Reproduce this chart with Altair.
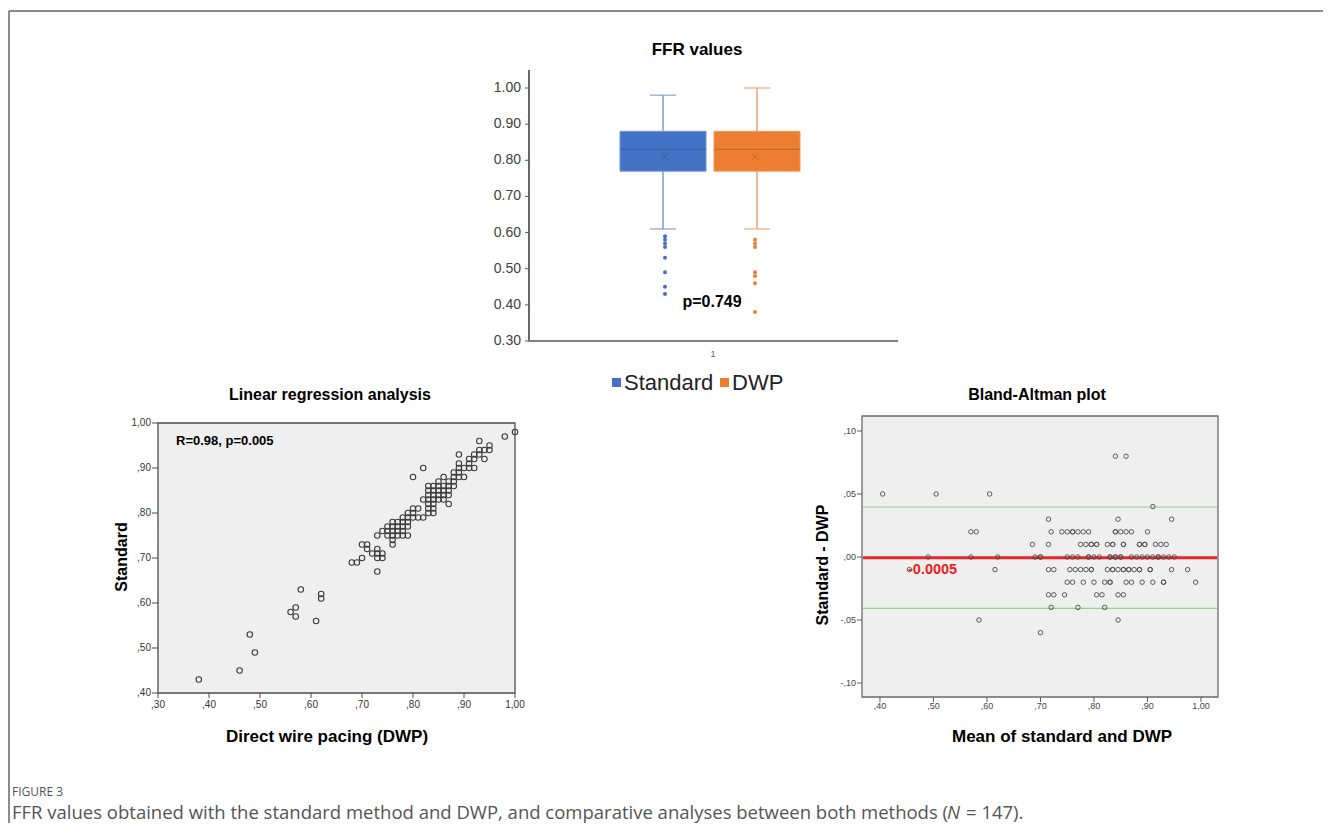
import altair as alt
import pandas as pd

# ---------------- data ----------------
box_groups = ["Standard", "DWP"]
box_q1 = [0.77, 0.77]
box_median = [0.83, 0.83]
box_q3 = [0.88, 0.88]
box_mean = [0.81, 0.81]
box_whisker_low = [0.61, 0.61]
box_whisker_high = [0.98, 1.00]
outliers_standard = [0.59, 0.58, 0.57, 0.56, 0.53, 0.49, 0.45, 0.43]
outliers_dwp = [0.58, 0.57, 0.56, 0.49, 0.48, 0.46, 0.38]
box_ticks = [1.00, 0.90, 0.80, 0.70, 0.60, 0.50, 0.40, 0.30]
box_tick_labels = ["1.00", "0.90", "0.80", "0.70", "0.60", "0.50", "0.40", "0.30"]

scatter_dwp = [0.38, 0.46, 0.48, 0.49, 0.56, 0.57, 0.57, 0.58, 0.61, 0.62, 0.62,
               0.68, 0.69, 0.70, 0.70, 0.71, 0.71, 0.72, 0.73, 0.73, 0.73, 0.73, 0.73, 0.74, 0.74,
               0.74, 0.75, 0.75, 0.75, 0.76, 0.76, 0.76, 0.76, 0.76, 0.76,
               0.77, 0.77, 0.77, 0.77, 0.78, 0.78, 0.78, 0.78, 0.78,
               0.79, 0.79, 0.79, 0.79, 0.79, 0.80, 0.80, 0.80, 0.80, 0.81, 0.81, 0.82, 0.82, 0.82,
               0.83, 0.83, 0.83, 0.83, 0.83, 0.83, 0.83, 0.84, 0.84, 0.84, 0.84, 0.84, 0.84, 0.84,
               0.85, 0.85, 0.85, 0.85, 0.85, 0.86, 0.86, 0.86, 0.86, 0.86,
               0.87, 0.87, 0.87, 0.87, 0.87, 0.88, 0.88, 0.88, 0.88,
               0.89, 0.89, 0.89, 0.89, 0.89, 0.90, 0.90, 0.91, 0.91, 0.91, 0.92, 0.92, 0.92,
               0.93, 0.93, 0.93, 0.94, 0.94, 0.95, 0.95, 0.98, 1.00]
scatter_standard = [0.43, 0.45, 0.53, 0.49, 0.58, 0.59, 0.57, 0.63, 0.56, 0.62, 0.61,
                    0.69, 0.69, 0.70, 0.73, 0.73, 0.72, 0.71, 0.75, 0.72, 0.71, 0.70, 0.67, 0.71, 0.70,
                    0.76, 0.77, 0.76, 0.75, 0.78, 0.77, 0.76, 0.75, 0.74, 0.73,
                    0.78, 0.77, 0.76, 0.75, 0.79, 0.78, 0.77, 0.76, 0.75,
                    0.80, 0.79, 0.78, 0.77, 0.75, 0.81, 0.80, 0.79, 0.88, 0.81, 0.79, 0.90, 0.83, 0.79,
                    0.86, 0.85, 0.84, 0.83, 0.82, 0.81, 0.80, 0.86, 0.85, 0.84, 0.83, 0.82, 0.81, 0.80,
                    0.87, 0.86, 0.85, 0.84, 0.83, 0.88, 0.86, 0.85, 0.84, 0.83,
                    0.87, 0.86, 0.85, 0.84, 0.82, 0.89, 0.88, 0.87, 0.86,
                    0.93, 0.91, 0.90, 0.89, 0.88, 0.90, 0.88, 0.92, 0.91, 0.90, 0.93, 0.92, 0.90,
                    0.96, 0.94, 0.93, 0.94, 0.92, 0.95, 0.94, 0.97, 0.98]
scatter_x_ticks = [0.30, 0.40, 0.50, 0.60, 0.70, 0.80, 0.90, 1.00]
scatter_x_labels = [",30", ",40", ",50", ",60", ",70", ",80", ",90", "1,00"]
scatter_y_ticks = [0.40, 0.50, 0.60, 0.70, 0.80, 0.90, 1.00]
scatter_y_labels = [",40", ",50", ",60", ",70", ",80", ",90", "1,00"]

ba_levels = [0.08, 0.05, 0.04, 0.03, 0.02, 0.01, 0.00, -0.01, -0.02, -0.03, -0.04, -0.05, -0.06]
ba_means_by_level = [
    [0.84, 0.86],
    [0.405, 0.505, 0.605],
    [0.91],
    [0.715, 0.845, 0.945],
    [0.57, 0.58, 0.72, 0.74, 0.75, 0.76, 0.76, 0.77, 0.78, 0.79, 0.84, 0.84, 0.85, 0.86, 0.87, 0.90],
    [0.685, 0.715, 0.775, 0.785, 0.795, 0.795, 0.805, 0.805, 0.825, 0.835, 0.835, 0.855, 0.855,
     0.885, 0.885, 0.895, 0.895, 0.915, 0.925, 0.935],
    [0.49, 0.57, 0.62, 0.69, 0.70, 0.70, 0.75, 0.76, 0.77, 0.79, 0.79, 0.80, 0.81, 0.83, 0.83, 0.84,
     0.84, 0.85, 0.85, 0.87, 0.88, 0.89, 0.90, 0.91, 0.92, 0.92, 0.93, 0.94, 0.95],
    [0.455, 0.615, 0.715, 0.725, 0.755, 0.765, 0.775, 0.785, 0.795, 0.795, 0.825, 0.835, 0.835, 0.845,
     0.855, 0.855, 0.865, 0.865, 0.875, 0.885, 0.885, 0.905, 0.905, 0.945, 0.975],
    [0.75, 0.76, 0.78, 0.80, 0.82, 0.83, 0.83, 0.86, 0.87, 0.89, 0.91, 0.93, 0.93, 0.99],
    [0.715, 0.725, 0.745, 0.805, 0.815, 0.845, 0.855],
    [0.72, 0.77, 0.82],
    [0.585, 0.845],
    [0.70],
]
ba_bias = -0.0005
ba_loa_upper = 0.0397
ba_loa_lower = -0.0407
ba_x_ticks = [0.40, 0.50, 0.60, 0.70, 0.80, 0.90, 1.00]
ba_x_labels = [",40", ",50", ",60", ",70", ",80", ",90", "1,00"]
ba_y_ticks = [0.10, 0.05, 0.00, -0.05, -0.10]
ba_y_labels = [",10", ",05", ",00", "-,05", "-,10"]

# ---------------- helpers ----------------
W, H = 1315, 815
FONT = "Liberation Sans"


def px(v):
    return v - 8


one = pd.DataFrame({"k": [0]})


def txt(x, y, s, size, weight="normal", color="black", align="center",
        baseline="middle", angle=None, font=FONT, style=None):
    kw = dict(fontSize=size, fontWeight=weight, color=color, align=align,
              baseline=baseline, font=font)
    if angle is not None:
        kw["angle"] = angle
    if style is not None:
        kw["fontStyle"] = style
    return alt.Chart(one).mark_text(**kw).encode(
        x=alt.value(px(x)), y=alt.value(px(y)), text=alt.value(s))


def hline(x1, x2, y, color, w):
    return alt.Chart(one).mark_rule(color=color, strokeWidth=w).encode(
        x=alt.value(px(x1)), x2=alt.value(px(x2)), y=alt.value(px(y)))


def vline(x, y1, y2, color, w):
    return alt.Chart(one).mark_rule(color=color, strokeWidth=w).encode(
        x=alt.value(px(x)), y=alt.value(px(y1)), y2=alt.value(px(y2)))


def sq(x1, x2, y1, y2, color):
    return alt.Chart(one).mark_rect(color=color).encode(
        x=alt.value(px(x1)), x2=alt.value(px(x2)), y=alt.value(px(y1)), y2=alt.value(px(y2)))


layers = []

# frame of the figure
layers.append(hline(9, 1331, 11, "#666666", 1.5))
layers.append(vline(9, 11, 831, "#666666", 1.5))

# ---------------- box plot ----------------
bx = alt.Scale(domain=box_groups, range=[px(620), px(800)], paddingInner=0.085, paddingOuter=0)
by = alt.Scale(domain=[0.30, 1.00], range=[px(341), px(88)], nice=False, zero=False)

box_df = pd.DataFrame({
    "group": box_groups, "q1": box_q1, "med": box_median, "q3": box_q3,
    "mean": box_mean, "wlo": box_whisker_low, "whi": box_whisker_high,
    "fill": ["#4472C4", "#ED7D31"],
    "edge": ["#6f93d6", "#f29a5e"],
    "whisk": ["#7d9bd2", "#f0a273"],
    "dark": ["#34589e", "#b9611f"],
})
X = alt.X("group:N", scale=bx, axis=None)

layers.append(alt.Chart(box_df).mark_rule(strokeWidth=1.5).encode(
    x=X, y=alt.Y("wlo:Q", scale=by, axis=None), y2="whi:Q",
    color=alt.Color("whisk:N", scale=None)))
for f in ["wlo", "whi"]:
    layers.append(alt.Chart(box_df).mark_tick(orient="horizontal", size=26, thickness=1.6).encode(
        x=X, y=alt.Y(f + ":Q", scale=by, axis=None), color=alt.Color("whisk:N", scale=None)))
layers.append(alt.Chart(box_df).mark_bar(strokeWidth=1).encode(
    x=X, y=alt.Y("q1:Q", scale=by, axis=None), y2="q3:Q",
    fill=alt.Fill("fill:N", scale=None), stroke=alt.Stroke("edge:N", scale=None)))
layers.append(alt.Chart(box_df).mark_tick(orient="horizontal", size=86, thickness=1.2).encode(
    x=X, y=alt.Y("med:Q", scale=by, axis=None), color=alt.Color("dark:N", scale=None)))
layers.append(alt.Chart(box_df).mark_point(
    shape="M-1,-1L1,1M-1,1L1,-1", size=45, filled=False, strokeWidth=1).encode(
    x=X, y=alt.Y("mean:Q", scale=by, axis=None), color=alt.Color("dark:N", scale=None)))

out_df = pd.DataFrame({
    "group": ["Standard"] * len(outliers_standard) + ["DWP"] * len(outliers_dwp),
    "v": outliers_standard + outliers_dwp,
    "c": ["#4472C4"] * len(outliers_standard) + ["#ED7D31"] * len(outliers_dwp),
})
layers.append(alt.Chart(out_df).mark_circle(size=16, opacity=1).encode(
    x=X, y=alt.Y("v:Q", scale=by, axis=None), color=alt.Color("c:N", scale=None)))

bt_df = pd.DataFrame({"v": box_ticks, "lab": box_tick_labels})
layers.append(alt.Chart(bt_df).mark_text(align="right", baseline="middle", fontSize=14,
                                         font=FONT, color="#404040").encode(
    x=alt.value(px(521)), y=alt.Y("v:Q", scale=by, axis=None), text="lab:N"))
layers.append(alt.Chart(bt_df).mark_rule(color="#595959", strokeWidth=1).encode(
    x=alt.value(px(525)), x2=alt.value(px(529)), y=alt.Y("v:Q", scale=by, axis=None)))
layers.append(vline(529, 70, 342, "#595959", 1.8))
layers.append(hline(528, 898, 341, "#808080", 2))
layers.append(txt(697, 50, "FFR values", 17, weight="bold"))
layers.append(txt(712, 302, "p=0.749", 16, weight="bold"))
layers.append(txt(713, 354, "1", 9, color="#666666"))
layers.append(sq(612, 621, 378, 387, "#4472C4"))
layers.append(txt(624, 383, "Standard", 22, align="left", color="#222222"))
layers.append(sq(720, 729, 378, 387, "#ED7D31"))
layers.append(txt(732, 383, "DWP", 22, align="left", color="#222222"))

# ---------------- scatter ----------------
sx = alt.Scale(domain=[0.30, 1.00], range=[px(158), px(515)], nice=False, zero=False)
sy = alt.Scale(domain=[0.40, 1.00], range=[px(693), px(423)], nice=False, zero=False)
frame_df = pd.DataFrame({"x0": [0.30], "x1": [1.00], "y0": [0.40], "y1": [1.00]})
layers.append(alt.Chart(frame_df).mark_rect(fill="#efefef", stroke="#4d4d4d", strokeWidth=1.3).encode(
    x=alt.X("x0:Q", scale=sx, axis=None), x2="x1:Q",
    y=alt.Y("y0:Q", scale=sy, axis=None), y2="y1:Q"))
sxt = pd.DataFrame({"v": scatter_x_ticks, "lab": scatter_x_labels})
syt = pd.DataFrame({"v": scatter_y_ticks, "lab": scatter_y_labels})
layers.append(alt.Chart(sxt).mark_rule(color="#4d4d4d", strokeWidth=1).encode(
    x=alt.X("v:Q", scale=sx, axis=None), y=alt.value(px(693)), y2=alt.value(px(698))))
layers.append(alt.Chart(sxt).mark_text(fontSize=10, font=FONT, color="#333333", baseline="middle").encode(
    x=alt.X("v:Q", scale=sx, axis=None), y=alt.value(px(705)), text="lab:N"))
layers.append(alt.Chart(syt).mark_rule(color="#4d4d4d", strokeWidth=1).encode(
    y=alt.Y("v:Q", scale=sy, axis=None), x=alt.value(px(152)), x2=alt.value(px(158))))
layers.append(alt.Chart(syt).mark_text(fontSize=10, font=FONT, color="#333333", align="right",
                                       baseline="middle").encode(
    y=alt.Y("v:Q", scale=sy, axis=None), x=alt.value(px(151)), text="lab:N"))
sc_df = pd.DataFrame({"dwp": scatter_dwp, "std": scatter_standard})
layers.append(alt.Chart(sc_df).mark_point(shape="circle", filled=False, size=30,
                                          color="#3a3a3a", strokeWidth=1.1, opacity=1).encode(
    x=alt.X("dwp:Q", scale=sx, axis=None), y=alt.Y("std:Q", scale=sy, axis=None)))
layers.append(txt(176, 441, "R=0.98, p=0.005", 13, weight="bold", align="left"))
layers.append(txt(330, 395, "Linear regression analysis", 16, weight="bold"))
layers.append(txt(122, 557, "Standard", 16, weight="bold", angle=270))
layers.append(txt(327, 737, "Direct wire pacing (DWP)", 17, weight="bold"))

# ---------------- Bland-Altman ----------------
ax = alt.Scale(domain=[0.3664, 1.0318], range=[px(862), px(1218)], nice=False, zero=False)
ay = alt.Scale(domain=[-0.1111, 0.1119], range=[px(697), px(416)], nice=False, zero=False)
bframe = pd.DataFrame({"x0": [0.3664], "x1": [1.0318], "y0": [-0.1111], "y1": [0.1119]})
layers.append(alt.Chart(bframe).mark_rect(fill="#efefef", stroke="#6a6a6a", strokeWidth=1.3).encode(
    x=alt.X("x0:Q", scale=ax, axis=None), x2="x1:Q",
    y=alt.Y("y0:Q", scale=ay, axis=None), y2="y1:Q"))
axt = pd.DataFrame({"v": ba_x_ticks, "lab": ba_x_labels})
ayt = pd.DataFrame({"v": ba_y_ticks, "lab": ba_y_labels})
layers.append(alt.Chart(axt).mark_rule(color="#5a5a5a", strokeWidth=1).encode(
    x=alt.X("v:Q", scale=ax, axis=None), y=alt.value(px(697)), y2=alt.value(px(702))))
layers.append(alt.Chart(axt).mark_text(fontSize=9, font=FONT, color="#444444", baseline="middle").encode(
    x=alt.X("v:Q", scale=ax, axis=None), y=alt.value(px(706)), text="lab:N"))
layers.append(alt.Chart(ayt).mark_rule(color="#5a5a5a", strokeWidth=1).encode(
    y=alt.Y("v:Q", scale=ay, axis=None), x=alt.value(px(857)), x2=alt.value(px(862))))
layers.append(alt.Chart(ayt).mark_text(fontSize=9, font=FONT, color="#444444", align="right",
                                       baseline="middle").encode(
    y=alt.Y("v:Q", scale=ay, axis=None), x=alt.value(px(856)), text="lab:N"))
loa_df = pd.DataFrame({"v": [ba_loa_upper, ba_loa_lower]})
layers.append(alt.Chart(loa_df).mark_rule(color="#8fd48f", strokeWidth=1.2).encode(
    y=alt.Y("v:Q", scale=ay, axis=None), x=alt.value(px(863)), x2=alt.value(px(1217))))
bias_df = pd.DataFrame({"v": [ba_bias]})
layers.append(alt.Chart(bias_df).mark_rule(color="#e8262a", strokeWidth=3).encode(
    y=alt.Y("v:Q", scale=ay, axis=None), x=alt.value(px(863)), x2=alt.value(px(1217))))
ba_mean = [m for lst in ba_means_by_level for m in lst]
ba_diff = [lv for lv, lst in zip(ba_levels, ba_means_by_level) for _ in lst]
ba_df = pd.DataFrame({"m": ba_mean, "d": ba_diff})
layers.append(alt.Chart(ba_df).mark_point(shape="circle", filled=False, size=20,
                                          color="#4a4a4a", strokeWidth=1, opacity=0.9).encode(
    x=alt.X("m:Q", scale=ax, axis=None), y=alt.Y("d:Q", scale=ay, axis=None)))
layers.append(txt(908, 570, "-0.0005", 14.5, weight="bold", color="#ee1c24", align="left"))
layers.append(txt(1037, 395, "Bland-Altman plot", 16, weight="bold"))
layers.append(txt(823, 565, "Standard - DWP", 16, weight="bold", angle=270))
layers.append(txt(1062, 737, "Mean of standard and DWP", 17, weight="bold"))

# ---------------- caption ----------------
CAP = 18.5
layers.append(txt(12, 792, "FIGURE 3", 12, color="#555555", align="left", font="Open Sans"))
layers.append(txt(12, 818.5, "FFR values obtained with the standard method and DWP, and comparative "
                  "analyses between both methods (", CAP, color="#555555", align="left",
                  font="Open Sans", baseline="alphabetic"))
layers.append(txt(947, 818.5, "N", CAP, color="#555555", align="left", font="Open Sans",
                  baseline="alphabetic", style="italic"))
layers.append(txt(966, 818.5, "= 147).", CAP, color="#555555", align="left", font="Open Sans",
                  baseline="alphabetic"))

chart = alt.layer(*layers).resolve_scale(x="independent", y="independent").properties(
    width=W, height=H, autosize=alt.AutoSizeParams(type="none"), padding=0
).configure_view(stroke=None)

chart.save("out.html", embed_options={"renderer": "svg", "actions": False})
